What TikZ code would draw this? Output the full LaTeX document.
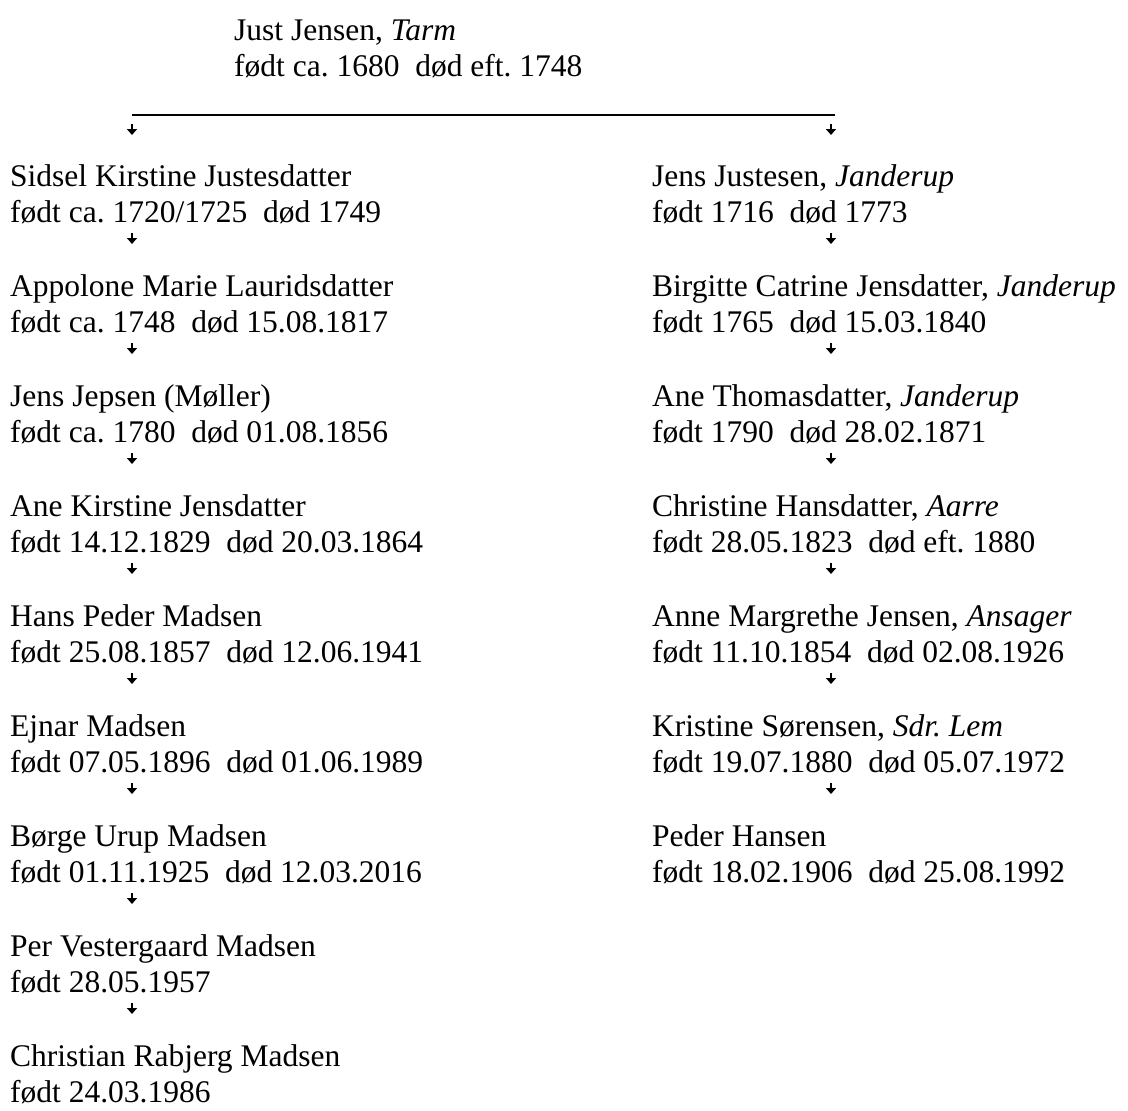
\documentclass[tikz,border=0pt]{standalone}
\usepackage{fontspec}
\setmainfont{Liberation Serif}
\usepackage{tikz}
\usetikzlibrary{arrows.meta}
\frenchspacing
\tikzset{navn/.style={anchor=base west, inner sep=0pt, font=\fontsize{31.5}{36}\selectfont},
 pil/.style={-{Triangle[length=6pt,width=10pt]}, line width=1.5pt},
 streg/.style={line width=1.5pt},
 }

\begin{document}
\begin{tikzpicture}[x=1pt, y=-1pt]
        \useasboundingbox (0,0) rectangle (1128,1111);
        \node[navn] (just) at (234,40) {Just Jensen, \textit{Tarm}};
        \node[navn] (justd) at (234,76) {født ca. 1680~~død eft. 1748};
        \coordinate (delV) at (132,115);
        \coordinate (delH) at (835,115);
        \draw [streg] (delV) -- (delH);
        \draw [pil] (delV) ++(0,9) -- ++(0,11);
        \draw [pil] (delH) ++(-4,9) -- ++(0,11);
        % venstre gren
        \node[navn] (v1) at (10,186) {Sidsel Kirstine Justesdatter};
        \node[navn] (v1d) at (10,222) {født ca. 1720/1725~~død 1749};
        \node[navn] (v2) at (10,296) {Appolone Marie Lauridsdatter};
        \node[navn] (v2d) at (10,332) {født ca. 1748~~død 15.08.1817};
        \node[navn] (v3) at (10,406) {Jens Jepsen (Møller)};
        \node[navn] (v3d) at (10,442) {født ca. 1780~~død 01.08.1856};
        \node[navn] (v4) at (10,516) {Ane Kirstine Jensdatter};
        \node[navn] (v4d) at (10,552) {født 14.12.1829~~død 20.03.1864};
        \node[navn] (v5) at (10,626) {Hans Peder Madsen};
        \node[navn] (v5d) at (10,662) {født 25.08.1857~~død 12.06.1941};
        \node[navn] (v6) at (10,736) {Ejnar Madsen};
        \node[navn] (v6d) at (10,772) {født 07.05.1896~~død 01.06.1989};
        \node[navn] (v7) at (10,846) {Børge Urup Madsen};
        \node[navn] (v7d) at (10,882) {født 01.11.1925~~død 12.03.2016};
        \node[navn] (v8) at (10,956) {Per Vestergaard Madsen};
        \node[navn] (v8d) at (10,992) {født 28.05.1957};
        \node[navn] (v9) at (10,1066) {Christian Rabjerg Madsen};
        \node[navn] (v9d) at (10,1102) {født 24.03.1986};
        \draw [pil] (v1d.base west) ++(122,11) -- ++(0,11);
        \draw [pil] (v2d.base west) ++(122,11) -- ++(0,11);
        \draw [pil] (v3d.base west) ++(122,11) -- ++(0,11);
        \draw [pil] (v4d.base west) ++(122,11) -- ++(0,11);
        \draw [pil] (v5d.base west) ++(122,11) -- ++(0,11);
        \draw [pil] (v6d.base west) ++(122,11) -- ++(0,11);
        \draw [pil] (v7d.base west) ++(122,11) -- ++(0,11);
        \draw [pil] (v8d.base west) ++(122,11) -- ++(0,11);
        % hoejre gren
        \node[navn] (h1) at (652,186) {Jens Justesen, \textit{Janderup}};
        \node[navn] (h1d) at (652,222) {født 1716~~død 1773};
        \node[navn] (h2) at (652,296) {Birgitte Catrine Jensdatter, \textit{Janderup}};
        \node[navn] (h2d) at (652,332) {født 1765~~død 15.03.1840};
        \node[navn] (h3) at (652,406) {Ane Thomasdatter, \textit{Janderup}};
        \node[navn] (h3d) at (652,442) {født 1790~~død 28.02.1871};
        \node[navn] (h4) at (652,516) {Christine Hansdatter, \textit{Aarre}};
        \node[navn] (h4d) at (652,552) {født 28.05.1823~~død eft. 1880};
        \node[navn] (h5) at (652,626) {Anne Margrethe Jensen, \textit{Ansager}};
        \node[navn] (h5d) at (652,662) {født 11.10.1854~~død 02.08.1926};
        \node[navn] (h6) at (652,736) {Kristine Sørensen, \textit{Sdr. Lem}};
        \node[navn] (h6d) at (652,772) {født 19.07.1880~~død 05.07.1972};
        \node[navn] (h7) at (652,846) {Peder Hansen};
        \node[navn] (h7d) at (652,882) {født 18.02.1906~~død 25.08.1992};
        \draw [pil] (h1d.base west) ++(179,11) -- ++(0,11);
        \draw [pil] (h2d.base west) ++(179,11) -- ++(0,11);
        \draw [pil] (h3d.base west) ++(179,11) -- ++(0,11);
        \draw [pil] (h4d.base west) ++(179,11) -- ++(0,11);
        \draw [pil] (h5d.base west) ++(179,11) -- ++(0,11);
        \draw [pil] (h6d.base west) ++(179,11) -- ++(0,11);
    \end{tikzpicture}
\end{document}
